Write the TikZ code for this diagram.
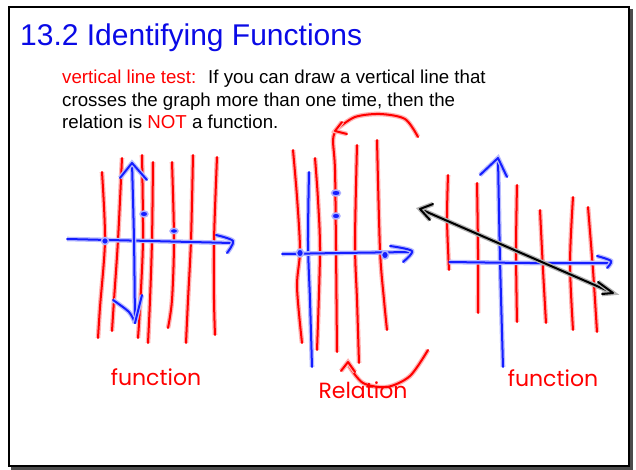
\documentclass[tikz,border=0pt]{standalone}
\usepackage{fontspec}
\setmainfont{Liberation Sans}
\newfontfamily\handfont{Poppins}
\definecolor{penred}{RGB}{255,0,0}
\definecolor{penblue}{RGB}{20,30,255}
\definecolor{titleblue}{RGB}{10,10,230}
\tikzset{
  pen/.style={line cap=round, line join=round, line width=2pt},
  redpen/.style={pen, draw=penred, preaction={draw=penred!30, line width=4.6pt}},
  bluepen/.style={pen, draw=penblue, preaction={draw=penblue!30, line width=4.6pt}},
  blackpen/.style={pen, draw=black, preaction={draw=black!30, line width=4.6pt}},
  bluedot/.style={fill=penblue, draw=penblue!35, line width=1.5pt},
  hand/.style={text=penred, inner sep=0pt, font=\handfont\fontsize{22}{24}\selectfont},
  body/.style={inner sep=0pt, anchor=base west, font=\fontsize{18.7}{22}\selectfont}
}
\begin{document}
\begin{tikzpicture}[x=1pt,y=-1pt]
\useasboundingbox (0,0) rectangle (636,470);
\fill[white] (0,0) rectangle (636,470);
% frame
\draw[black!70, line width=3pt] (631,9) -- (631,468) -- (11,468);
\draw[black, line width=1.6pt] (9,7) rectangle (629,466);
% title and text
\node[anchor=base west, inner sep=0pt, text=titleblue, font=\fontsize{30}{34}\selectfont] (title) at (20,46) {13.2 Identifying Functions};
\node[body, text=penred] (vlt) at (62,84) {vertical line test:};
\node[body] (l1) at (208,84) {If you can draw a vertical line that};
\node[body] (l2) at (62,106.5) {crosses the graph more than one time, then the};
\node[body] (l3) at (62,129) {relation is \textcolor{penred}{NOT} a function.};

% ---------- graph 1 ----------
\draw[redpen] plot[smooth] coordinates {(102,172) (105,240) (100,307) (98,338)};
\draw[redpen] plot[smooth] coordinates {(122,158) (118,240) (114,300) (112,331)};
\draw[redpen] plot[smooth] coordinates {(142,155) (143,240) (140,307) (138,338)};
\draw[redpen] plot[smooth] coordinates {(153,162) (152,240) (150,300) (148,343)};
\draw[redpen] plot[smooth] coordinates {(172,162) (174,240) (172,300) (168,328)};
\draw[redpen] plot[smooth] coordinates {(193,155) (191,240) (188,300) (186,343)};
\draw[redpen] plot[smooth] coordinates {(217,157) (214,240) (214,300) (215,335)};
\draw[bluepen] plot[smooth] coordinates {(67,239) (150,241) (232,243)};
\draw[bluepen] plot[smooth] coordinates {(216,235) (233,241) (227,253)};
\draw[bluepen] plot[smooth] coordinates {(132,163) (134,240) (135,323)};
\draw[bluepen] (120,178) -- (132,163) -- (147,180);
\draw[bluepen] plot[smooth] coordinates {(113,300) (129,312) (135,323)};
\draw[bluepen] (142,295) -- (135,323);
\filldraw[bluedot] (144,214) ellipse (4 and 3);
\filldraw[bluedot] (174,231) ellipse (4 and 2.6);
\filldraw[bluedot] (105,241) ellipse (3.5 and 3.5);
\node[hand] (f1) at (156,377) {function};

% ---------- graph 2 ----------
\draw[redpen] plot[smooth] coordinates {(293,150) (297,197) (300,250) (297,287) (302,343)};
\draw[redpen] plot[smooth] coordinates {(315,158) (318,200) (320,253) (317,350)};
\draw[redpen] plot[smooth] coordinates {(337,352) (336,250) (335,170) (333,140) (336,130)};
\draw[redpen] plot[smooth] coordinates {(418,137) (405,119) (380,114) (355,117) (337,129)};
\draw[redpen] (342,122) -- (335,131) -- (347,134);
\draw[redpen] plot[smooth] coordinates {(357,145) (355,243) (357,300) (359,363)};
\draw[redpen] plot[smooth] coordinates {(377,140) (380,250) (384,300) (387,330)};
\draw[bluepen] plot[smooth] coordinates {(309,172) (308,243) (310,300) (312,367)};
\draw[bluepen] plot[smooth] coordinates {(282,254) (340,253) (412,252)};
\draw[bluepen] plot[smooth] coordinates {(390,246) (412,251) (403,262)};
\filldraw[bluedot] (336,193) ellipse (4.5 and 3);
\filldraw[bluedot] (336,216) ellipse (4 and 3);
\filldraw[bluedot] (300,253) ellipse (3.5 and 4);
\filldraw[bluedot] (385,255) ellipse (3.5 and 4);
\draw[redpen] plot[smooth] coordinates {(428,350) (410,376) (387,387) (363,383) (349,366)};
\draw[redpen] (341,371) -- (348,362) -- (355,372);
\node[hand] (rel) at (363,390) {Relation};

% ---------- graph 3 ----------
\draw[redpen] plot[smooth] coordinates {(448,175) (447,220) (449,270)};
\draw[redpen] plot[smooth] coordinates {(477,183) (478,250) (478,313)};
\draw[redpen] plot[smooth] coordinates {(517,185) (516,250) (517,322)};
\draw[redpen] plot[smooth] coordinates {(540,210) (543,270) (546,323)};
\draw[redpen] plot[smooth] coordinates {(573,197) (570,263) (573,330)};
\draw[redpen] plot[smooth] coordinates {(588,207) (593,270) (597,332)};
\draw[bluepen] plot[smooth] coordinates {(498,158) (500,260) (503,367)};
\draw[bluepen] (480,175) -- (498,158) -- (507,177);
\draw[bluepen] plot[smooth] coordinates {(449,262) (530,263) (610,263)};
\draw[bluepen] plot[smooth] coordinates {(597,256) (611,261) (607,268)};
\draw[blackpen] (420,209) -- (613,293);
\draw[blackpen] (433,204) -- (420,209) -- (430,220);
\draw[blackpen] (598,282) -- (613,293) -- (602,294);
\node[hand] (f2) at (553,378) {function};
\end{tikzpicture}
\end{document}
